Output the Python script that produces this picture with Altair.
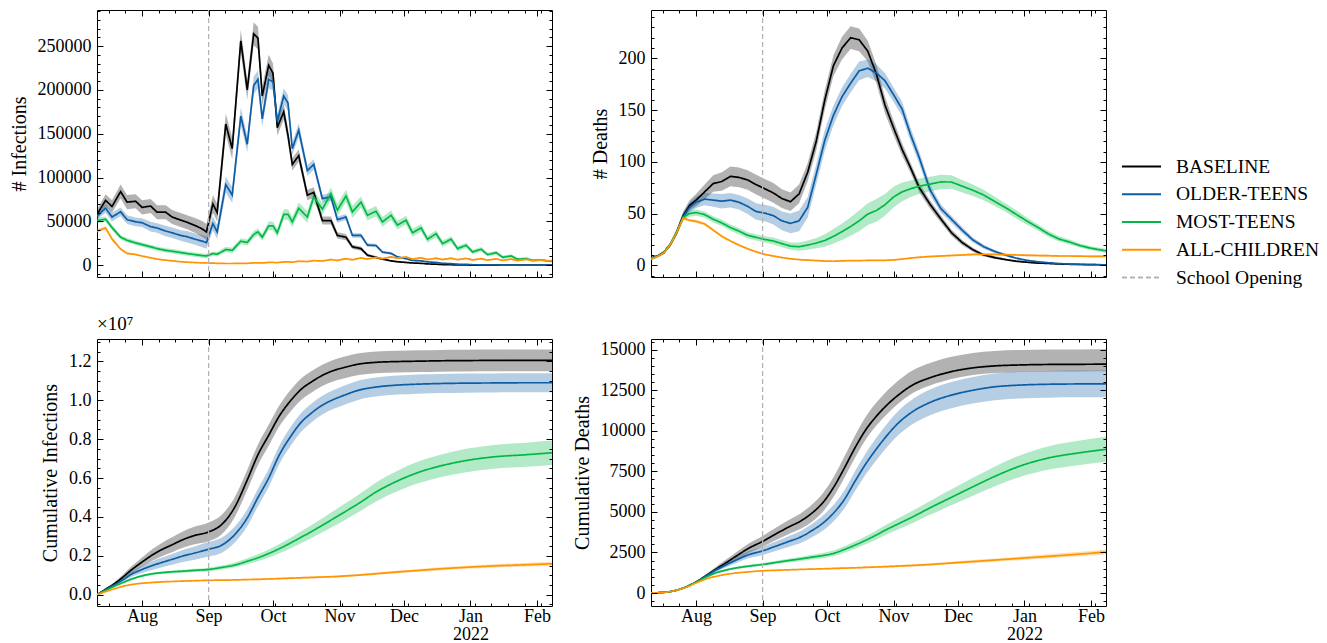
import altair as alt
import pandas as pd

# ---------------------------------------------------------------- data
START = pd.Timestamp("2021-07-11")
END_DAY = 212
SCHOOL_DAY = 52  # 2021-09-01

SERIES = ["BASELINE", "OLDER-TEENS", "MOST-TEENS", "ALL-CHILDREN"]
COLORS = ["#000000", "#0C5DA5", "#00B945", "#FF9500"]
RULE_NAME = "School Opening"
RULE_COLOR = "#b4b4b4"

# month starts (Aug 1 ... Feb 1) as day offsets from START
MAJOR_DAYS = [21, 52, 82, 113, 143, 174, 205]
MINOR_DAYS = [5.5, 13.25, 28.75, 36.5, 44.25, 59.75, 67.5, 75.25, 83, 90.75, 98.5,
              106.25, 114, 121.75, 129.5, 137.25, 145, 152.75, 160.5, 168.25, 176,
              183.75, 191.5, 199.25, 207]

# ---- daily infections (thousands)
INF_DAYS = [0, 4, 7, 11, 14, 18, 21, 25, 28, 32, 35, 39, 42, 46, 49, 51, 54, 56, 60, 63,
            67, 70, 73, 75, 77, 80, 82, 84, 87, 89, 91, 94, 98, 101, 105, 109, 112, 116, 119, 123,
            126, 130, 133, 137, 140, 144, 147, 151, 154, 158, 161, 165, 168, 172, 175, 179, 182, 186, 189, 193,
            196, 200, 203, 207, 210, 212]
INF_BASE = [58, 74, 67, 84, 72, 73, 66, 67.5, 60.5, 60.5, 55, 51.5, 49, 45, 41.5, 38, 70, 60, 161, 133,
            256, 200, 264, 259, 193, 228, 219, 157, 175, 148, 115, 125, 80, 83, 51, 51, 34, 32, 21, 19,
            11.5, 9, 7, 5, 4, 3.2, 2.6, 2.2, 1.5, 1.2, 0.8, 0.6, 0.4, 0.3, 0.2, 0.2, 0.1, 0.1, 0.1, 0.1,
            0.1, 0.1, 0.1, 0.1, 0.1, 0.1]
INF_BASE_HW = [6, 7, 7, 8, 8, 8, 8, 8, 8, 8, 8, 8, 8, 8.5, 9, 9, 10, 10, 12, 12,
               13, 11, 13, 13, 11, 12, 11, 9, 9, 8, 7, 7, 6, 6, 4.5, 4.5, 3.5, 3.5, 2.5, 2.5,
               1.5, 1.5, 1, 1, 0.8, 0.6, 0.5, 0.5, 0.4, 0.3, 0.2, 0.2, 0.1, 0.1, 0.1, 0.1, 0.1, 0.1, 0.1, 0.1,
               0.1, 0.1, 0.1, 0.1, 0.1, 0.1]
INF_OLDER = [56, 65, 55, 61, 52, 49.5, 48.5, 44, 42.5, 39, 37, 34, 32.5, 29.5, 27.5, 25.8, 47.5, 38, 92, 80,
             170, 138, 205, 212, 167, 212, 209, 164, 193, 185, 133, 154, 108, 115, 76, 78, 52, 55, 34, 34,
             23, 22.5, 15, 13.5, 9.5, 7.5, 5.5, 5, 3.8, 3.2, 2.2, 1.8, 1.2, 1, 0.6, 0.5, 0.3, 0.3, 0.2, 0.2,
             0.2, 0.2, 0.2, 0.2, 0.2, 0.2]
INF_OLDER_HW = [4, 5, 5, 5, 5, 5, 5, 5.5, 5.5, 6, 6, 6, 6.5, 6.5, 7, 7, 8, 8, 9, 9,
                10, 9, 10, 10, 9, 10, 10, 8, 9, 9, 7, 8, 6, 6, 4.5, 4.5, 3.5, 3.5, 2.5, 2.5,
                2, 2, 1.5, 1.5, 1, 1, 0.8, 0.7, 0.6, 0.5, 0.4, 0.3, 0.2, 0.2, 0.1, 0.1, 0.1, 0.1, 0.1, 0.1,
                0.1, 0.1, 0.1, 0.1, 0.1, 0.1]
INF_MOST = [51, 52.5, 43, 32, 28.5, 25.5, 23.5, 21, 19, 17, 16, 14.5, 13.3, 12, 11, 10.6, 13.3, 12.5, 18, 17,
            27.4, 26, 35, 38, 32, 45, 45, 37, 58, 58, 49.4, 65, 55, 78, 64, 81.7, 62.8, 79, 60.8, 72,
            57, 61.6, 49.4, 57, 45.7, 51.4, 37, 42.6, 29.7, 36, 24.7, 29.7, 19, 22.8, 15.2, 18.3, 12.1, 14.4, 9.1, 10.6,
            6.8, 7.5, 5.7, 6, 4.8, 4.5]
INF_MOST_HW = [3, 3, 3, 2.5, 2.5, 2.5, 2.5, 2.5, 2.5, 2.5, 2.5, 2.5, 2.5, 2.5, 2.5, 2.5, 2.5, 2.5, 3, 3,
               3.5, 3.5, 4, 4, 4, 5, 5, 5, 6, 6, 6, 6.5, 6.5, 7, 7, 7, 7, 7, 7, 6.5,
               6, 6, 5.5, 5.5, 5, 5, 4.5, 4.5, 4, 4, 3.5, 3.5, 3, 3, 2.5, 2.5, 2.2, 2.2, 2, 2,
               1.8, 1.8, 1.5, 1.5, 1.5, 1.5]
INF_ALL = [39, 42.5, 30, 18.5, 13.5, 12.3, 10.5, 8.5, 7, 5.8, 5, 4, 3.5, 3, 2.7, 2.6, 2.4, 2.2, 2, 2,
           2.2, 2.2, 2.7, 2.8, 2.6, 3.2, 3.2, 3, 3.8, 3.8, 3.5, 4.6, 4.2, 5.3, 4.8, 6.5, 5.5, 7.5, 6.2, 8.3,
           7, 9, 7.5, 9.5, 8, 9.5, 7, 8.5, 6.5, 8, 6.5, 8, 6.3, 7.8, 6, 7.5, 5.8, 7.3, 5.5, 7,
           5.3, 6.8, 5, 6.2, 5, 5.3]
INF_ALL_HW = [2, 2, 2, 1.5, 1.2, 1, 1, 1, 0.8, 0.8, 0.7, 0.6, 0.6, 0.5, 0.5, 0.5, 0.5, 0.5, 0.5, 0.5,
              0.5, 0.5, 0.5, 0.5, 0.5, 0.6, 0.6, 0.6, 0.6, 0.6, 0.6, 0.7, 0.7, 0.8, 0.8, 0.9, 0.9, 1, 1, 1,
              1, 1, 1, 1, 1, 1, 1, 1, 1, 1, 1, 1, 1, 1, 1, 1, 1, 1, 1, 1,
              1, 1, 1, 1, 1, 1]

# ---- daily deaths
DEA_DAYS = [0, 3, 6, 9, 12, 15, 18, 21, 25, 29, 33, 37, 41, 45, 49, 53, 57, 61, 65, 69,
            73, 77, 81, 85, 89, 93, 97, 101, 105, 109, 113, 117, 121, 125, 130, 135, 140, 145, 150, 155,
            160, 165, 170, 175, 180, 185, 190, 195, 200, 205, 212]
DEA_BASE = [7, 9, 12.5, 20, 32, 48, 58, 63, 71, 79, 81, 86, 85, 82.5, 78, 74, 70, 64.5, 61.5, 69,
            90, 120, 160, 193, 210, 220, 218, 207, 185, 155, 133, 112, 94, 75, 59, 45, 31.5, 22, 15, 10,
            7.5, 5.6, 4, 3, 2.2, 1.8, 1.3, 1, 0.8, 0.6, 0.5]
DEA_BASE_HW = [1, 1, 1.5, 2, 3, 4, 5, 6, 7, 8, 9, 9.5, 9.5, 9.5, 9.5, 9.5, 9.5, 9, 9, 9,
               9, 9, 9.5, 10, 11, 11, 11, 10, 9, 8, 7, 6, 5, 4.5, 4, 3.5, 3, 2.5, 2, 1.5,
               1.5, 1, 1, 0.8, 0.6, 0.5, 0.4, 0.3, 0.3, 0.3, 0.3]
DEA_OLDER = [7, 9, 12.5, 20, 32, 47, 56, 61, 64, 63, 62, 63, 61, 57, 52, 50.5, 48, 43, 40.5, 43,
             56, 88, 121, 145, 163, 176, 188, 190.5, 186, 178.5, 165, 151, 126, 104, 73, 55, 44.5, 34, 24.5, 18,
             13.5, 10, 7, 4.8, 3.5, 2.5, 1.7, 1.2, 0.9, 0.7, 0.5]
DEA_OLDER_HW = [1, 1, 1.5, 2, 3, 4, 5, 5.5, 6, 6.5, 7, 7, 7, 7.5, 8, 8, 8.5, 9, 9.5, 10,
                10, 10, 10, 9.5, 9, 9, 9, 8.5, 8, 7.5, 7, 7, 6.5, 6, 5, 4, 3.5, 3, 2.5, 2,
                1.5, 1.2, 1, 0.8, 0.6, 0.5, 0.4, 0.3, 0.3, 0.3, 0.3]
DEA_MOST = [6, 8.5, 12, 20, 32, 46.5, 50, 51, 49, 44.5, 41, 36.5, 33, 29, 27, 25, 23.5, 21, 18.5, 18,
            19.5, 21.5, 24, 28, 32.5, 37.5, 43, 49.5, 53, 58.5, 66, 71, 74, 76.5, 78.5, 80.6, 80.5, 76.5, 72.5, 68,
            62, 56, 49.5, 43, 37, 30.5, 25.5, 22.5, 19, 16.5, 14]
DEA_MOST_HW = [1, 1, 1.5, 2, 2.5, 2.5, 3, 3, 3, 3, 3, 3, 3, 3, 3, 3, 3.5, 3.5, 3.5, 4,
               4.5, 5, 6, 7, 8, 9, 10, 10.5, 11, 10.5, 10, 9, 8, 7.5, 7, 7, 6.5, 6, 5.5, 5,
               4.5, 4, 4, 3.5, 3, 3, 2.5, 2.5, 2, 2, 2]
DEA_ALL = [6, 8.5, 12, 20, 32, 45.5, 43.5, 42.5, 40, 34, 28, 23.5, 19.5, 16, 13, 10.5, 9, 7.5, 6.3, 5.5,
           5, 4.6, 4.1, 3.9, 4.3, 4.5, 4.6, 4.7, 4.8, 4.8, 5.2, 6, 7, 7.8, 8.5, 9, 9.5, 10, 10.5, 10.5,
           10.5, 10.3, 10, 9.7, 9.5, 9.3, 9, 9, 8.8, 8.7, 8.7]
DEA_ALL_HW = [0.5, 0.5, 0.8, 1, 1.2, 1.5, 1.5, 1.5, 1.5, 1.3, 1.2, 1, 1, 0.9, 0.8, 0.8, 0.7, 0.7, 0.6, 0.6,
              0.6, 0.6, 0.6, 0.6, 0.6, 0.6, 0.6, 0.6, 0.6, 0.6, 0.7, 0.7, 0.8, 0.8, 0.9, 0.9, 1, 1, 1, 1,
              1, 1, 1, 1, 1, 1, 1, 1, 1, 1, 1]

# ---- cumulative (shared day grid)
CUM_DAYS = [0, 4, 8, 12, 16, 21, 26, 30, 35, 40, 45, 52, 58, 64, 70, 75, 80, 85, 90, 95,
            100, 105, 110, 115, 122, 130, 140, 150, 160, 172, 185, 200, 212]

# cumulative infections, units of 1e7
CINF_BASE = [0, 0.028, 0.056, 0.09, 0.127, 0.168, 0.206, 0.231, 0.257, 0.283, 0.303, 0.323, 0.36, 0.447, 0.59,
             0.72, 0.82, 0.92, 0.995, 1.055, 1.095, 1.128, 1.152, 1.168, 1.186, 1.195, 1.199, 1.201, 1.203,
             1.204, 1.205, 1.205, 1.205]
CINF_BASE_HW = [0, 0.004, 0.008, 0.013, 0.018, 0.024, 0.03, 0.034, 0.038, 0.042, 0.045, 0.048, 0.05, 0.051,
                0.052, 0.053, 0.054, 0.054, 0.055, 0.055, 0.055, 0.055, 0.055, 0.056, 0.056, 0.056, 0.056,
                0.056, 0.056, 0.056, 0.056, 0.056, 0.056]
CINF_OLDER = [0, 0.025, 0.05, 0.076, 0.105, 0.13, 0.151, 0.165, 0.182, 0.199, 0.213, 0.234, 0.254, 0.307,
              0.395, 0.5, 0.6, 0.72, 0.81, 0.885, 0.935, 0.975, 1.003, 1.025, 1.052, 1.068, 1.078, 1.083,
              1.086, 1.088, 1.089, 1.09, 1.09]
CINF_OLDER_HW = [0, 0.003, 0.006, 0.01, 0.014, 0.018, 0.022, 0.025, 0.028, 0.031, 0.034, 0.037, 0.039, 0.041,
                 0.043, 0.045, 0.046, 0.047, 0.048, 0.048, 0.048, 0.048, 0.048, 0.049, 0.049, 0.049, 0.049,
                 0.049, 0.049, 0.049, 0.049, 0.049, 0.049]
CINF_MOST = [0, 0.022, 0.043, 0.062, 0.08, 0.097, 0.108, 0.113, 0.118, 0.121, 0.125, 0.13, 0.14, 0.152, 0.172,
             0.19, 0.212, 0.237, 0.265, 0.295, 0.325, 0.357, 0.39, 0.423, 0.47, 0.528, 0.585, 0.63, 0.662,
             0.69, 0.709, 0.72, 0.73]
CINF_MOST_HW = [0, 0.002, 0.003, 0.004, 0.005, 0.006, 0.006, 0.007, 0.007, 0.008, 0.008, 0.009, 0.01, 0.012,
                0.015, 0.018, 0.021, 0.024, 0.027, 0.03, 0.033, 0.036, 0.039, 0.042, 0.045, 0.049, 0.053,
                0.056, 0.058, 0.06, 0.061, 0.062, 0.063]
CINF_ALL = [0, 0.016, 0.03, 0.043, 0.052, 0.059, 0.063, 0.066, 0.068, 0.07, 0.072, 0.074, 0.075, 0.076, 0.078,
            0.079, 0.081, 0.083, 0.085, 0.087, 0.089, 0.091, 0.093, 0.096, 0.101, 0.108, 0.117, 0.125, 0.133,
            0.141, 0.148, 0.154, 0.159]
CINF_ALL_HW = [0, 0.001, 0.001, 0.002, 0.002, 0.002, 0.003, 0.003, 0.003, 0.003, 0.003, 0.003, 0.003, 0.004,
               0.004, 0.004, 0.004, 0.004, 0.005, 0.005, 0.005, 0.005, 0.005, 0.006, 0.006, 0.006, 0.007,
               0.007, 0.008, 0.008, 0.009, 0.009, 0.01]

# cumulative deaths
CDEA_BASE = [0, 25, 70, 180, 360, 680, 1100, 1450, 1870, 2300, 2720, 3185, 3630, 4060, 4460, 4930, 5560, 6500,
             7680, 8940, 10050, 10900, 11600, 12180, 12830, 13270, 13650, 13880, 14000, 14060, 14090, 14100, 14110]
CDEA_BASE_LO = [0, 3, 8, 18, 35, 60, 100, 140, 190, 240, 280, 330, 380, 430, 480, 530, 560, 580, 600, 610,
                600, 580, 560, 530, 500, 480, 460, 440, 440, 440, 440, 440, 440]
CDEA_BASE_HI = [0, 3, 8, 18, 35, 60, 100, 140, 190, 240, 280, 330, 380, 430, 480, 530, 580, 640, 700, 760,
                800, 840, 870, 890, 900, 910, 915, 920, 920, 920, 920, 920, 920]
CDEA_OLDER = [0, 25, 70, 180, 360, 680, 1080, 1400, 1740, 2050, 2340, 2600, 2880, 3170, 3470, 3850, 4300, 4920,
              5750, 6880, 7950, 8880, 9720, 10450, 11190, 11750, 12200, 12500, 12710, 12820, 12870, 12890, 12900]
CDEA_OLDER_HW = [0, 3, 8, 18, 35, 55, 85, 115, 150, 185, 215, 250, 290, 330, 370, 410, 460, 510, 560, 610,
                 650, 690, 720, 745, 770, 790, 805, 815, 825, 825, 825, 825, 825]
CDEA_MOST = [0, 25, 70, 180, 360, 670, 1000, 1230, 1420, 1550, 1650, 1760, 1880, 2000, 2110, 2210, 2310, 2440,
             2680, 2950, 3250, 3580, 3930, 4250, 4700, 5250, 5900, 6550, 7180, 7830, 8320, 8650, 8860]
CDEA_MOST_HW = [0, 2, 6, 12, 20, 30, 40, 50, 60, 70, 80, 90, 100, 115, 130, 145, 160, 180, 200, 225,
                250, 280, 310, 340, 380, 430, 490, 550, 610, 670, 720, 750, 770]
CDEA_ALL = [0, 25, 70, 175, 340, 620, 880, 1020, 1150, 1240, 1300, 1370, 1400, 1430, 1455, 1475, 1495, 1515,
            1535, 1555, 1580, 1605, 1630, 1660, 1700, 1760, 1850, 1940, 2030, 2140, 2260, 2400, 2530]
CDEA_ALL_HW = [0, 1, 3, 6, 10, 15, 20, 25, 28, 30, 32, 35, 38, 40, 42, 44, 46, 48, 50, 52,
               55, 58, 61, 64, 68, 74, 82, 90, 100, 112, 125, 140, 150]

# ---------------------------------------------------------------- helpers
FONT = "Liberation Serif"
FS = 18          # tick labels
TITLE_FS = 20    # axis titles
LEG_FS = 19.5    # legend labels


def ms(day):
    return int((START + pd.Timedelta(days=day)).value // 10**6)


def make_frame(days, vals, los, his, scale=1.0):
    rows = []
    for name, v_list, lo_list, hi_list in zip(SERIES, vals, los, his):
        for d, v, lo, hi in zip(days, v_list, lo_list, hi_list):
            rows.append({"date": ms(d), "series": name, "v": v * scale,
                         "lo": max(v - lo, 0) * scale, "hi": (v + hi) * scale})
    return pd.DataFrame(rows)


inf_df = make_frame(INF_DAYS, [INF_BASE, INF_OLDER, INF_MOST, INF_ALL],
                    [INF_BASE_HW, INF_OLDER_HW, INF_MOST_HW, INF_ALL_HW],
                    [INF_BASE_HW, INF_OLDER_HW, INF_MOST_HW, INF_ALL_HW], 1000.0)
dea_df = make_frame(DEA_DAYS, [DEA_BASE, DEA_OLDER, DEA_MOST, DEA_ALL],
                    [DEA_BASE_HW, DEA_OLDER_HW, DEA_MOST_HW, DEA_ALL_HW],
                    [DEA_BASE_HW, DEA_OLDER_HW, DEA_MOST_HW, DEA_ALL_HW])
cinf_df = make_frame(CUM_DAYS, [CINF_BASE, CINF_OLDER, CINF_MOST, CINF_ALL],
                     [CINF_BASE_HW, CINF_OLDER_HW, CINF_MOST_HW, CINF_ALL_HW],
                     [CINF_BASE_HW, CINF_OLDER_HW, CINF_MOST_HW, CINF_ALL_HW])
cdea_df = make_frame(CUM_DAYS, [CDEA_BASE, CDEA_OLDER, CDEA_MOST, CDEA_ALL],
                     [CDEA_BASE_LO, CDEA_OLDER_HW, CDEA_MOST_HW, CDEA_ALL_HW],
                     [CDEA_BASE_HI, CDEA_OLDER_HW, CDEA_MOST_HW, CDEA_ALL_HW])

rule_df = pd.DataFrame({"date": [ms(SCHOOL_DAY)], "series": [RULE_NAME]})

LEG_DOMAIN = SERIES + [RULE_NAME]
LEG_COLORS = COLORS + [RULE_COLOR]
LEG_DASH = [[1, 0], [1, 0], [1, 0], [1, 0], [5, 3]]

LEGEND = alt.Legend(title=None, orient="none", legendX=1024, legendY=147,
                    symbolType="stroke", symbolSize=1521, symbolStrokeWidth=1.8,
                    labelFont=FONT, labelFontSize=LEG_FS, labelColor="black", labelOffset=14,
                    rowPadding=7.75, clipHeight=19, padding=0, labelLimit=0)

XLABEL_EXPR = ("utcmonth(datum.value) == 0 ? [utcFormat(datum.value, '%b'), utcFormat(datum.value, '%Y')]"
               " : utcFormat(datum.value, '%b')")


def tick_axis(orient, values, size, **kw):
    return alt.Axis(orient=orient, values=values, tickSize=size, offset=-size, domain=False,
                    grid=False, tickColor="black", tickWidth=1, zindex=1, **kw)


def panel(df, ydom, ymajor, yminor, ytitle, xlabels, ylabel_expr, interp, title=None):
    xs = alt.Scale(type="utc", domain=[ms(0), ms(END_DAY)], nice=False)
    ys = alt.Scale(domain=ydom, nice=False, zero=False)
    xmaj = [ms(d) for d in MAJOR_DAYS]
    xmin = [ms(d) for d in MINOR_DAYS]

    x_bottom = tick_axis("bottom", xmaj, 6, labels=xlabels, labelExpr=XLABEL_EXPR, labelFont=FONT,
                         labelFontSize=FS, labelColor="black", labelPadding=1, labelLineHeight=18,
                         labelFlush=False, labelOverlap=False, title=None)
    y_left = tick_axis("left", ymajor, 6, labelExpr=ylabel_expr, labelFont=FONT, labelFontSize=FS,
                       labelColor="black", labelPadding=6, labelFlush=False, labelOverlap=False,
                       title=ytitle, titleFont=FONT, titleFontSize=TITLE_FS, titleFontWeight="normal",
                       titleColor="black", titlePadding=8)

    bands = alt.Chart(df).mark_area(opacity=0.3, clip=True, interpolate=interp).encode(
        x=alt.X("date:T", scale=xs, axis=x_bottom),
        y=alt.Y("lo:Q", scale=ys, axis=y_left),
        y2="hi:Q",
        fill=alt.Fill("series:N", scale=alt.Scale(domain=SERIES, range=COLORS), legend=None),
    )
    lines = alt.Chart(df).mark_line(strokeWidth=1.7, clip=True, interpolate=interp).encode(
        x=alt.X("date:T", scale=xs, axis=None),
        y=alt.Y("v:Q", scale=ys, axis=None),
        color=alt.Color("series:N", scale=alt.Scale(domain=LEG_DOMAIN, range=LEG_COLORS), legend=LEGEND),
        strokeDash=alt.StrokeDash("series:N", scale=alt.Scale(domain=LEG_DOMAIN, range=LEG_DASH),
                                  legend=LEGEND),
    )
    rule = alt.Chart(rule_df).mark_rule(strokeWidth=1.3).encode(
        x=alt.X("date:T", scale=xs, axis=None),
        color=alt.Color("series:N", scale=alt.Scale(domain=LEG_DOMAIN, range=LEG_COLORS), legend=LEGEND),
        strokeDash=alt.StrokeDash("series:N", scale=alt.Scale(domain=LEG_DOMAIN, range=LEG_DASH),
                                  legend=LEGEND),
    )
    ax_df = pd.DataFrame({"date": [ms(0)], "v": [ydom[0]]})

    def ax_layer(xa, ya):
        return alt.Chart(ax_df).mark_point(opacity=0).encode(
            x=alt.X("date:T", scale=xs, axis=xa),
            y=alt.Y("v:Q", scale=ys, axis=ya))

    a1 = ax_layer(tick_axis("bottom", xmin, 3, labels=False, title=None),
                  tick_axis("left", yminor, 3, labels=False, title=None))
    a2 = ax_layer(tick_axis("top", xmaj, 6, labels=False, title=None),
                  tick_axis("right", ymajor, 6, labels=False, title=None))
    a3 = ax_layer(tick_axis("top", xmin, 3, labels=False, title=None),
                  tick_axis("right", yminor, 3, labels=False, title=None))

    ch = alt.layer(bands, lines, rule, a1, a2, a3).resolve_axis(x="independent", y="independent")
    props = dict(width=455, height=267)
    if title is not None:
        props["title"] = title
    return ch.properties(**props)


def minor(lo, hi, step, major_step):
    vals = []
    k = int(lo // step)
    while k * step <= hi:
        v = round(k * step, 6)
        if abs(round(v / major_step) * major_step - v) > 1e-9:
            vals.append(v)
        k += 1
    return vals


TL = panel(inf_df, [-13400, 291100], [0, 50000, 100000, 150000, 200000, 250000],
           minor(-13400, 291100, 10000, 50000), "# Infections", False, "format(datum.value, 'd')", "linear")
TR = panel(dea_df, [-11.3, 246.8], [0, 50, 100, 150, 200],
           minor(-11.3, 246.8, 10, 50), "# Deaths", False, "format(datum.value, 'd')", "linear")
BL = panel(cinf_df, [-0.058, 1.315], [0, 0.2, 0.4, 0.6, 0.8, 1.0, 1.2],
           minor(-0.058, 1.315, 0.05, 0.2), "Cumulative Infections", True, "format(datum.value, '.1f')",
           "monotone",
           title=alt.TitleParams("×10⁷", anchor="start", frame="group", font=FONT, fontSize=19,
                                 fontWeight="normal", color="black", offset=4))
BR = panel(cdea_df, [-800, 15660], [0, 2500, 5000, 7500, 10000, 12500, 15000],
           minor(-800, 15660, 500, 2500), "Cumulative Deaths", True, "format(datum.value, 'd')", "monotone")

chart = alt.concat(TL, TR, BL, BR, columns=2, spacing={"row": 62, "column": 99},
                   bounds="flush").properties(padding=0).configure(
    font=FONT).configure_view(stroke="black", strokeWidth=1)

chart.save("out.html", embed_options={"renderer": "svg", "actions": False})
